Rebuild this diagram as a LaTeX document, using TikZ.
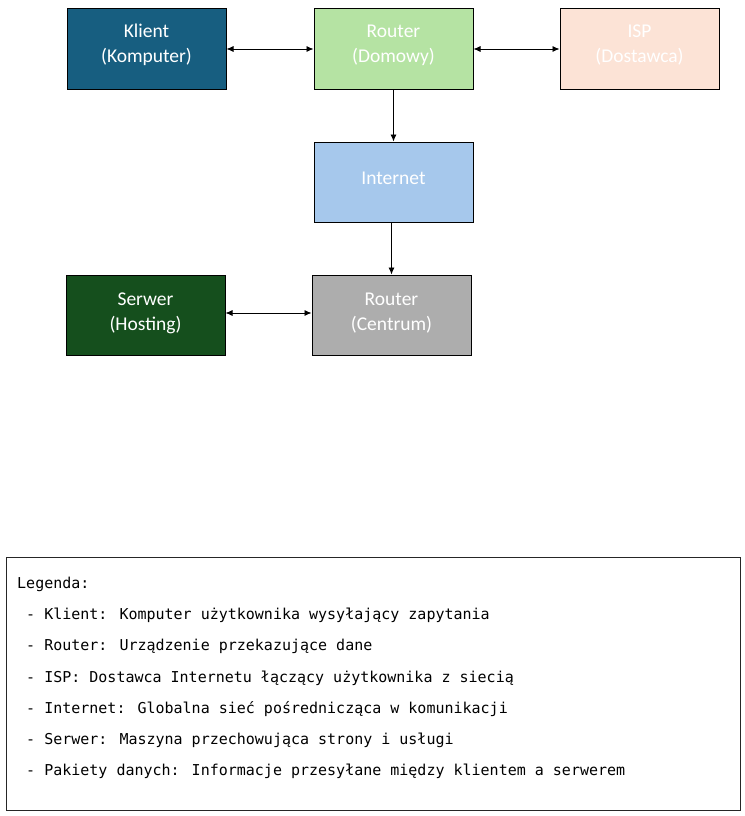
\documentclass[tikz,border=0pt]{standalone}
\usepackage{fontspec}
\setmainfont{Carlito}
\newfontfamily\legendfont{DejaVu Sans Mono}
\usetikzlibrary{arrows.meta}
\definecolor{klientblue}{HTML}{175E80}
\definecolor{routergreen}{HTML}{B5E3A3}
\definecolor{isppeach}{HTML}{FCE3D6}
\definecolor{netblue}{HTML}{A6C8EC}
\definecolor{serwergreen}{HTML}{154F1D}
\definecolor{centrumgray}{HTML}{ADADAD}
% extra space under the text lifts it inside the box
\newcommand\boxtext[2][8pt]{\parbox{150pt}{\centering #2\par\vspace{#1}}}
\begin{document}
\begin{tikzpicture}[x=1pt, y=-1pt,
  box/.style={draw=black, line width=1pt, minimum width=159pt, minimum height=80pt,
    inner sep=0pt, text=white, font=\fontsize{19.5}{25}\selectfont, align=center},
  link/.style={line width=0.8pt, {Latex[length=7pt,width=6pt]}-{Latex[length=7pt,width=6pt]}},
  flow/.style={line width=0.8pt, -{Latex[length=7pt,width=6pt]}},
  legline/.style={anchor=west, inner sep=0pt, font=\legendfont\fontsize{15}{18}\selectfont}]

  \useasboundingbox (0,0) rectangle (744,816);

  % top row
  \node[box, fill=klientblue] (klient) at (146.5,49) {\boxtext{Klient\\(Komputer)}};
  \node[box, fill=routergreen] (domowy) at (393.5,49) {\boxtext{Router\\(Domowy)}};
  \node[box, fill=isppeach] (isp) at (639.5,49) {\boxtext{ISP\\(Dostawca)}};

  % middle
  \node[box, fill=netblue] (internet) at (393.5,182) {\boxtext[8pt]{Internet}};

  % bottom row
  \node[box, fill=serwergreen] (serwer) at (145.5,315) {\boxtext[4pt]{Serwer\\(Hosting)}};
  \node[box, fill=centrumgray] (centrum) at (391.5,315) {\boxtext[4pt]{Router\\(Centrum)}};

  % connectors
  \draw[link] (klient) -- (domowy);
  \draw[link] (domowy) -- (isp);
  \draw[flow] (domowy.south) -- (internet.north);
  \draw[flow] (internet.south -| centrum.north) -- (centrum.north);
  \draw[link] ([yshift=2pt]serwer.east) -- ([yshift=2pt]centrum.west);

  % legend
  \node[draw=black!85, line width=1pt, minimum width=734pt, minimum height=253pt, inner sep=0pt]
    (legenda) at (373,683.5) {};
  \node[legline] (l0) at (17,584) {Legenda:};
  \node[legline] (l1) at (26,615) {- Klient: Komputer użytkownika wysyłający zapytania};
  \node[legline] (l2) at (26,646) {- Router: Urządzenie przekazujące dane};
  \node[legline] (l3) at (26,678) {- ISP: Dostawca Internetu łączący użytkownika z siecią};
  \node[legline] (l4) at (26,709) {- Internet: Globalna sieć pośrednicząca w komunikacji};
  \node[legline] (l5) at (26,740) {- Serwer: Maszyna przechowująca strony i usługi};
  \node[legline] (l6) at (26,771) {- Pakiety danych: Informacje przesyłane między klientem a serwerem};

\end{tikzpicture}
\end{document}
